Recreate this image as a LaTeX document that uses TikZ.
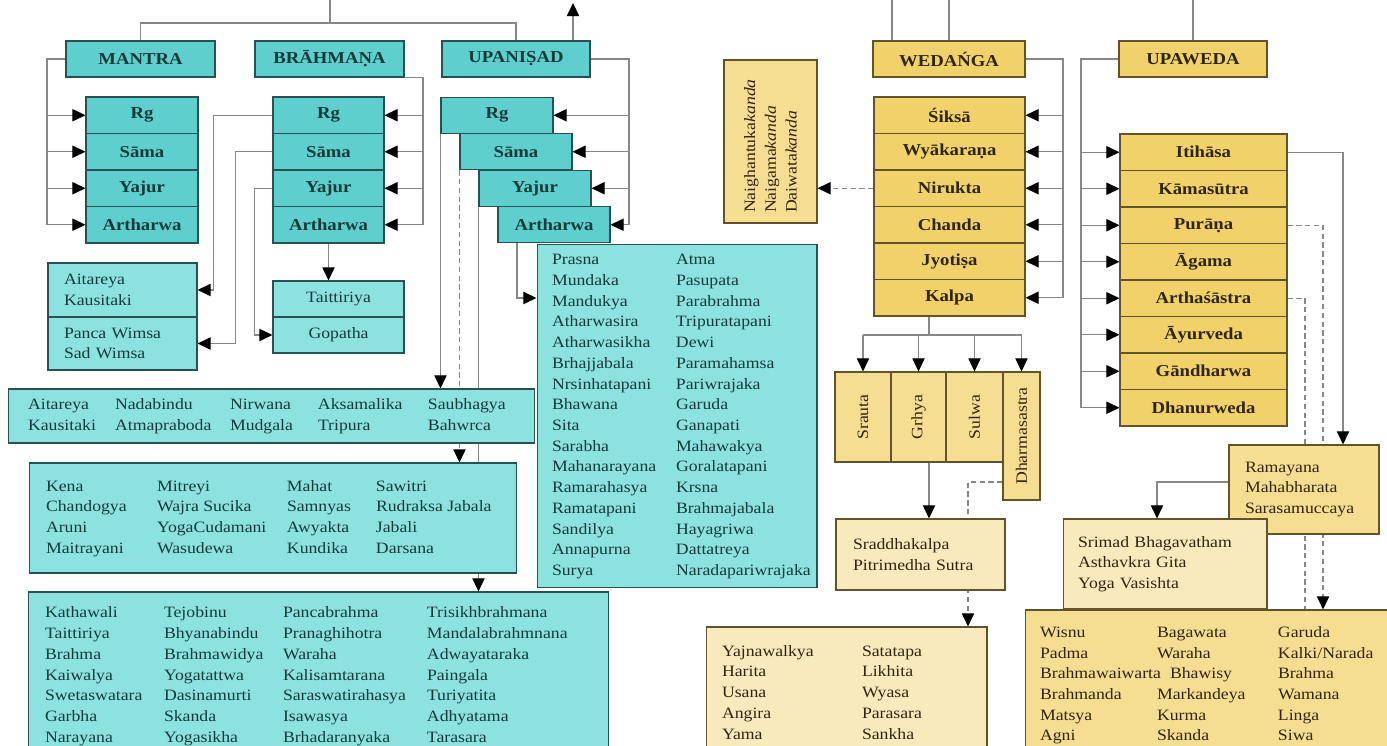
\documentclass[tikz,border=0pt]{standalone}
\usepackage{fontspec}
\setmainfont{Liberation Serif}[FakeStretch=1.12]
\usetikzlibrary{arrows.meta}

\definecolor{tealhead}{RGB}{94,207,204}
\definecolor{teallist}{RGB}{140,226,223}
\definecolor{tealline}{RGB}{40,82,82}
\definecolor{tealtext}{RGB}{20,58,58}
\definecolor{goldhead}{RGB}{241,209,106}
\definecolor{goldlist}{RGB}{245,222,146}
\definecolor{goldpale}{RGB}{249,234,190}
\definecolor{goldline}{RGB}{98,84,40}
\definecolor{goldtext}{RGB}{48,36,14}
\definecolor{wiregray}{RGB}{135,135,135}

\newcommand{\headfont}{\fontsize{9.5}{11}\selectfont\bfseries}
\newcommand{\listfont}{\fontsize{9}{11.8}\selectfont}
\setlength{\tabcolsep}{0pt}

\pgfdeclarelayer{background}
\pgfsetlayers{background,main}

\tikzset{
  tbox/.style={draw=tealline, line width=0.6pt, fill=tealhead, text=tealtext, font=\headfont, inner sep=0pt},
  tlist/.style={draw=tealline, line width=0.6pt, fill=teallist, text=tealtext, font=\listfont, align=left, inner sep=0pt},
  gbox/.style={draw=goldline, line width=0.6pt, fill=goldhead, text=goldtext, font=\headfont, inner sep=0pt},
  glist/.style={draw=goldline, line width=0.6pt, fill=goldlist, text=goldtext, font=\listfont, align=left, inner sep=0pt},
  wire/.style={draw=wiregray, line width=0.7pt},
  arr/.style={wire, -{Triangle[length=7.5pt, width=7pt, color=black]}},
  dashwire/.style={wire, dash pattern=on 3pt off 2pt},
  dasharr/.style={dashwire, -{Triangle[length=7.5pt, width=7pt, color=black]}}
}

\begin{document}
\begin{tikzpicture}[x=0.02cm, y=-0.02cm]
  \path[use as bounding box, clip] (0, 0) rectangle (1387, 746);
  \coordinate (edge) at (0, 0);

  % weda groups
  \node[tbox, minimum width=2.98cm, minimum height=0.72cm] at (140.5, 59) (mantra) {MANTRA};
  \node[tbox, minimum width=2.98cm, minimum height=0.72cm] at (329.5, 59) (brahmana) {BRĀHMAṆA};
  \node[tbox, minimum width=2.96cm, minimum height=0.72cm] at (516, 59) (upanisad) {UPANIṢAD};

  \node[tbox, minimum width=2.24cm, minimum height=0.73cm] at (142, 115.25) (m-rg) {Rg};
  \node[tbox, minimum width=2.24cm, minimum height=0.73cm] at (142, 151.75) (m-sama) {Sāma};
  \node[tbox, minimum width=2.24cm, minimum height=0.73cm] at (142, 188.25) (m-yajur) {Yajur};
  \node[tbox, minimum width=2.24cm, minimum height=0.73cm] at (142, 224.75) (m-artharwa) {Artharwa};

  \node[tbox, minimum width=2.22cm, minimum height=0.73cm] at (328.5, 115.25) (b-rg) {Rg};
  \node[tbox, minimum width=2.22cm, minimum height=0.73cm] at (328.5, 151.75) (b-sama) {Sāma};
  \node[tbox, minimum width=2.22cm, minimum height=0.73cm] at (328.5, 188.25) (b-yajur) {Yajur};
  \node[tbox, minimum width=2.22cm, minimum height=0.73cm] at (328.5, 224.75) (b-artharwa) {Artharwa};

  \node[tbox, minimum width=2.24cm, minimum height=0.72cm] at (497, 115.25) (u-rg) {Rg};
  \node[tbox, minimum width=2.24cm, minimum height=0.72cm] at (516, 151.75) (u-sama) {Sāma};
  \node[tbox, minimum width=2.24cm, minimum height=0.72cm] at (535, 188.25) (u-yajur) {Yajur};
  \node[tbox, minimum width=2.24cm, minimum height=0.72cm] at (554, 224.75) (u-artharwa) {Artharwa};

  % brahmana and upanisad texts
  \node[tlist, minimum width=2.98cm, minimum height=1.08cm, text width=2.34cm] at (122.5, 290) (aitareya) {Aitareya\\Kausitaki};
  \node[tlist, minimum width=2.98cm, minimum height=1.06cm, text width=2.34cm] at (122.5, 343.5) (panca) {Panca Wimsa\\Sad Wimsa};
  \node[tlist, minimum width=2.62cm, minimum height=0.72cm, align=center] at (338.5, 299) (taittiriya) {Taittiriya};
  \node[tlist, minimum width=2.62cm, minimum height=0.72cm, align=center] at (338.5, 335) (gopatha) {Gopatha};

  \node[tlist, minimum width=10.54cm, minimum height=1.08cm] at (271.5, 416) (aitbig) {%
    \begin{tabular}{@{}p{1.74cm}p{2.3cm}p{1.76cm}p{2.2cm}p{1.74cm}@{}}
      Aitareya & Nadabindu & Nirwana & Aksamalika & Saubhagya\\
      Kausitaki & Atmapraboda & Mudgala & Tripura & Bahwrca
    \end{tabular}};
  \node[tlist, minimum width=9.76cm, minimum height=2.2cm] at (273, 518) (kena) {%
    \begin{tabular}{@{}p{2.22cm}p{2.6cm}p{1.78cm}p{2.48cm}@{}}
      Kena & Mitreyi & Mahat & Sawitri\\
      Chandogya & Wajra Sucika & Samnyas & Rudraksa Jabala\\
      Aruni & YogaCudamani & Awyakta & Jabali\\
      Maitrayani & Wasudewa & Kundika & Darsana
    \end{tabular}};
  \node[tlist, minimum width=11.62cm, minimum height=3.36cm] at (318.5, 676) (kathawali) {%
    \begin{tabular}{@{}p{2.38cm}p{2.38cm}p{2.88cm}p{3.3cm}@{}}
      Kathawali & Tejobinu & Pancabrahma & Trisikhbrahmana\\
      Taittiriya & Bhyanabindu & Pranaghihotra & Mandalabrahmnana\\
      Brahma & Brahmawidya & Waraha & Adwayataraka\\
      Kaiwalya & Yogatattwa & Kalisamtarana & Paingala\\
      Swetaswatara & Dasinamurti & Saraswatirahasya & Turiyatita\\
      Garbha & Skanda & Isawasya & Adhyatama\\
      Narayana & Yogasikha & Brhadaranyaka & Tarasara
    \end{tabular}};
  \node[tlist, minimum width=5.6cm, minimum height=6.88cm] at (677, 416) (prasna) {%
    \begin{tabular}{@{}p{2.48cm}p{2.52cm}@{}}
      Prasna & Atma\\
      Mundaka & Pasupata\\
      Mandukya & Parabrahma\\
      Atharwasira & Tripuratapani\\
      Atharwasikha & Dewi\\
      Brhajjabala & Paramahamsa\\
      Nrsinhatapani & Pariwrajaka\\
      Bhawana & Garuda\\
      Sita & Ganapati\\
      Sarabha & Mahawakya\\
      Mahanarayana & Goralatapani\\
      Ramarahasya & Krsna\\
      Ramatapani & Brahmajabala\\
      Sandilya & Hayagriwa\\
      Annapurna & Dattatreya\\
      Surya & Naradapariwrajaka
    \end{tabular}};

  % wedanga and upaweda
  \node[gbox, minimum width=3.04cm, minimum height=0.72cm] at (949, 59) (wedanga) {WEDAŃGA};
  \node[gbox, minimum width=2.96cm, minimum height=0.72cm] at (1193, 59) (upaweda) {UPAWEDA};
  \node[glist, rotate=90, minimum width=3.26cm, minimum height=1.86cm, text width=2.86cm] at (770.5, 141.5) (naigh) {Naighantuka\textit{kanda}\\Naigama\textit{kanda}\\Daiwata\textit{kanda}};

  \node[gbox, minimum width=3.02cm, minimum height=0.73cm] at (949.5, 115.25) (w-siksa) {Śiksā};
  \node[gbox, minimum width=3.02cm, minimum height=0.73cm] at (949.5, 151.75) (w-wyakarana) {Wyākaraṇa};
  \node[gbox, minimum width=3.02cm, minimum height=0.73cm] at (949.5, 188.25) (w-nirukta) {Nirukta};
  \node[gbox, minimum width=3.02cm, minimum height=0.73cm] at (949.5, 224.75) (w-chanda) {Chanda};
  \node[gbox, minimum width=3.02cm, minimum height=0.73cm] at (949.5, 261.25) (w-jyotisa) {Jyotiṣa};
  \node[gbox, minimum width=3.02cm, minimum height=0.73cm] at (949.5, 297.75) (w-kalpa) {Kalpa};

  \node[gbox, minimum width=3.34cm, minimum height=0.73cm] at (1203.5, 152.25) (p-itihasa) {Itihāsa};
  \node[gbox, minimum width=3.34cm, minimum height=0.73cm] at (1203.5, 188.75) (p-kamasutra) {Kāmasūtra};
  \node[gbox, minimum width=3.34cm, minimum height=0.73cm] at (1203.5, 225.25) (p-purana) {Purāṇa};
  \node[gbox, minimum width=3.34cm, minimum height=0.73cm] at (1203.5, 261.75) (p-agama) {Āgama};
  \node[gbox, minimum width=3.34cm, minimum height=0.73cm] at (1203.5, 298.25) (p-artha) {Arthaśāstra};
  \node[gbox, minimum width=3.34cm, minimum height=0.73cm] at (1203.5, 334.75) (p-ayurveda) {Āyurveda};
  \node[gbox, minimum width=3.34cm, minimum height=0.73cm] at (1203.5, 371.25) (p-gandharwa) {Gāndharwa};
  \node[gbox, minimum width=3.34cm, minimum height=0.73cm] at (1203.5, 407.75) (p-dhanurweda) {Dhanurweda};

  \node[glist, rotate=90, minimum width=1.8cm, minimum height=1.12cm, align=center] at (863, 417) (srauta) {Srauta};
  \node[glist, rotate=90, minimum width=1.8cm, minimum height=1.1cm, align=center] at (918.5, 417) (grhya) {Grhya};
  \node[glist, rotate=90, minimum width=1.8cm, minimum height=1.14cm, align=center] at (974.5, 417) (sulwa) {Sulwa};
  \node[glist, rotate=90, minimum width=2.56cm, minimum height=0.74cm, align=center] at (1021.5, 436) (dharma) {Dharmasastra};

  \node[glist, fill=goldpale, minimum width=3.38cm, minimum height=1.42cm, text width=2.7cm] at (920.5, 554.5) (sraddha) {Sraddhakalpa\\Pitrimedha Sutra};
  \node[glist, fill=goldpale, minimum width=5.62cm, minimum height=2.66cm] at (846.5, 693.5) (yajna) {%
    \begin{tabular}{@{}p{2.8cm}p{2.18cm}@{}}
      Yajnawalkya & Satatapa\\
      Harita & Likhita\\
      Usana & Wyasa\\
      Angira & Parasara\\
      Yama & Sankha
    \end{tabular}};
  \node[glist, minimum width=3.0cm, minimum height=1.78cm, text width=2.36cm] at (1304, 489.5) (ramayana) {Ramayana\\Mahabharata\\Sarasamuccaya};
  \node[glist, fill=goldpale, minimum width=4.08cm, minimum height=1.8cm, text width=3.48cm] at (1165, 564) (srimad) {Srimad Bhagavatham\\Asthavkra Gita\\Yoga Vasishta};
  \node[glist, minimum width=7.4cm, minimum height=3.0cm] at (1210, 685) (wisnu) {%
    \begin{tabular}{@{}p{2.34cm}p{2.42cm}p{2.04cm}@{}}
      Wisnu & Bagawata & Garuda\\
      Padma & Waraha & Kalki/Narada\\
      Brahmawaiwarta & \hspace{0.26cm}Bhawisy & Brahma\\
      Brahmanda & Markandeya & Wamana\\
      Matsya & Kurma & Linga\\
      Agni & Skanda & Siwa
    \end{tabular}};

  \begin{pgfonlayer}{background}
    % top joins
    \coordinate (ljoin) at (330, 23);
    \draw[wire] (mantra.north) |- (ljoin) -| (upanisad.north);
    \draw[wire] (ljoin) -- (ljoin |- edge);
    \coordinate (utip) at (573, 3);
    \draw[arr] (utip |- upanisad.north) -- (utip);
    \coordinate (wtop) at (892, 0);
    \draw[wire] (wtop) -- (wtop |- wedanga.north);
    \draw[wire] (wedanga.north |- edge) -- (wedanga.north);
    \draw[wire] (upaweda.north |- edge) -- (upaweda.north);

    % brackets
    \coordinate (mbus) at (47, 225);
    \draw[wire] (mantra.west) -| (mbus);
    \foreach \r in {rg, sama, yajur, artharwa}
      \draw[arr] (m-\r.west -| mbus) -- (m-\r.west);
    \coordinate (bbus) at (423, 225);
    \draw[wire] (brahmana.south east) -| (bbus);
    \foreach \r in {rg, sama, yajur, artharwa}
      \draw[arr] (b-\r.east -| bbus) -- (b-\r.east);
    \coordinate (ubus) at (629, 225);
    \draw[wire] (upanisad.east) -| (ubus);
    \foreach \r in {rg, sama, yajur, artharwa}
      \draw[arr] (u-\r.east -| ubus) -- (u-\r.east);
    \coordinate (wbus) at (1063, 298);
    \draw[wire] (wedanga.east) -| (wbus);
    \foreach \r in {siksa, wyakarana, nirukta, chanda, jyotisa, kalpa}
      \draw[arr] (w-\r.east -| wbus) -- (w-\r.east);
    \coordinate (pbus) at (1081, 408);
    \draw[wire] (upaweda.west) -| (pbus);
    \foreach \r in {itihasa, kamasutra, purana, agama, artha, ayurveda, gandharwa, dhanurweda}
      \draw[arr] (p-\r.west -| pbus) -- (p-\r.west);

    % brahmana links
    \draw[arr] (b-rg.west) -- ++(-59, 0) |- (aitareya.east);
    \draw[arr] (b-sama.west) -- ++(-37, 0) |- (panca.east);
    \draw[arr] (b-yajur.west) -- ++(-18, 0) |- (gopatha.west);
    \draw[arr] (b-artharwa.south) -- (b-artharwa.south |- taittiriya.north);

    % upanisad links
    \draw[arr] (u-rg.south west) -- (u-rg.south west |- aitbig.north);
    \draw[dasharr] (u-sama.south west) -- (u-sama.south west |- kena.north);
    \draw[arr] (u-yajur.south west) -- (u-yajur.south west |- kathawali.north);
    \coordinate (adrop) at (517, 298);
    \draw[arr] (adrop |- u-artharwa.south) -- (adrop) -- (adrop -| prasna.west);

    % wedanga links
    \draw[dasharr] (w-nirukta.west) -- (w-nirukta.west -| naigh.south);
    \coordinate (kdrop) at (929, 335);
    \draw[wire] (kdrop |- w-kalpa.south) -- (kdrop);
    \draw[wire] (srauta.east |- kdrop) -- (dharma.east |- kdrop);
    \foreach \r in {srauta, grhya, sulwa, dharma}
      \draw[arr] (\r.east |- kdrop) -- (\r.east);
    \draw[arr] (kdrop |- grhya.west) -- (kdrop |- sraddha.north);
    \coordinate (ddash) at (968, 482);
    \draw[dasharr] (ddash -| dharma.north) -- (ddash) -- (ddash |- yajna.north);

    % upaweda links
    \coordinate (idrop) at (1343, 0);
    \draw[arr] (p-itihasa.east) -| (idrop |- ramayana.north);
    \coordinate (pdrop) at (1323, 0);
    \draw[dasharr] (p-purana.east) -| (pdrop |- wisnu.north);
    \coordinate (tdrop) at (1305, 0);
    \draw[dashwire] (p-artha.east) -| (tdrop |- wisnu.north);
    \coordinate (rdrop) at (1157, 482);
    \draw[arr] (rdrop -| ramayana.west) -- (rdrop) -- (rdrop |- srimad.north);
  \end{pgfonlayer}
\end{tikzpicture}
\end{document}
